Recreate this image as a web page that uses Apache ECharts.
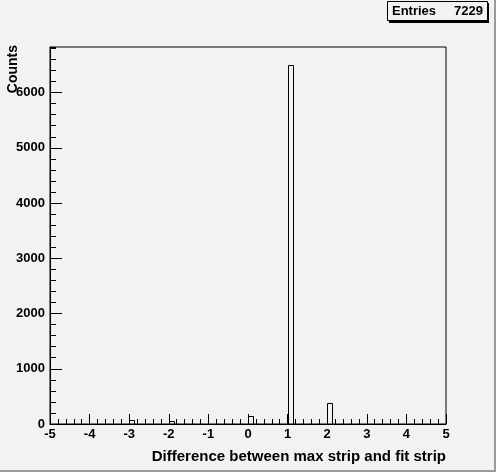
<!DOCTYPE html>
<html>
<head>
<meta charset="utf-8">
<script src="https://cdn.jsdelivr.net/npm/echarts@6/dist/echarts.min.js"></script>
<style>
html,body{margin:0;padding:0;background:#f2f2f2;}
#c{width:496px;height:472px;}
</style>
</head>
<body>
<div id="c"></div>
<script>
// Histogram data (bins of width 0.125 on [-5, 5]; only non-empty bins listed)
const binLow = [-3, -2, 0, 1, 2];
const binWidth = 0.125;
const counts = [75, 60, 140, 6500, 384];
const entries = 7229;
const xTitle = 'Difference between max strip and fit strip';
const yTitle = 'Counts';
const xMin = -5, xMax = 5;
const yMax = Math.max(...counts) * 1.05;

const FONT = '"Liberation Sans", Arial, Helvetica, sans-serif';
const chart = echarts.init(document.getElementById('c'), null, {renderer: 'canvas'});

const data = binLow.map((x, i) => [x, x + binWidth, counts[i]]);

chart.setOption({
  animation: false,
  backgroundColor: '#f2f2f2',
  grid: {left: 50, right: 50, top: 47, bottom: 48, show: true, borderColor: '#000', borderWidth: 1, backgroundColor: 'transparent'},
  xAxis: {
    type: 'value', min: xMin, max: xMax, interval: 1,
    axisLine: {show: true, onZero: false, lineStyle: {color: '#000', width: 1}},
    axisTick: {show: true, inside: true, length: 10, lineStyle: {color: '#000'}},
    minorTick: {show: true, splitNumber: 5, length: 5, lineStyle: {color: '#000'}},
    splitLine: {show: false},
    axisLabel: {color: '#000', fontFamily: FONT, fontWeight: 'bold', fontSize: 13, margin: 4, formatter: v => String(v)}
  },
  yAxis: [{
    type: 'value', min: 0, max: yMax, interval: 1000,
    axisLine: {show: true, onZero: false, lineStyle: {color: '#000', width: 1}},
    axisTick: {show: true, inside: true, length: 12, lineStyle: {color: '#000'}},
    splitLine: {show: false},
    axisLabel: {color: '#000', fontFamily: FONT, fontWeight: 'bold', fontSize: 13, margin: 5, showMaxLabel: false, formatter: v => String(v)}
  }, {
    type: 'value', min: 0, max: yMax, interval: 200, position: 'left',
    axisLine: {show: false, onZero: false},
    axisTick: {show: true, inside: true, length: 6, lineStyle: {color: '#000'}},
    splitLine: {show: false},
    axisLabel: {show: false}
  }],
  series: [{
    type: 'custom',
    xAxisIndex: 0, yAxisIndex: 0,
    data: data,
    renderItem: function (params, api) {
      const p0 = api.coord([api.value(0), api.value(2)]);
      const p1 = api.coord([api.value(1), 0]);
      const x0 = Math.round(p0[0]) + 0.5, x1 = Math.round(p1[0]) + 0.5;
      const y0 = Math.round(p0[1]) + 0.5, y1 = Math.round(p1[1]) + 0.5;
      return {
        type: 'rect',
        shape: {x: x0, y: y0, width: x1 - x0, height: y1 - y0},
        style: {fill: 'none', stroke: '#000', lineWidth: 1}
      };
    }
  }],
  graphic: [
    {type: 'rect', silent: true, z: 100, shape: {x: 494, y: 0, width: 2, height: 472}, style: {fill: '#9a9a9a'}},
    {type: 'rect', silent: true, z: 100, shape: {x: 0, y: 470, width: 496, height: 2}, style: {fill: '#9a9a9a'}},
    {type: 'rect', silent: true, z: 100, shape: {x: 389, y: 3, width: 100, height: 20}, style: {fill: '#000'}},
    {type: 'rect', silent: true, z: 101, shape: {x: 387.5, y: 1.5, width: 100, height: 19}, style: {fill: '#f2f2f2', stroke: '#000', lineWidth: 1}},
    {type: 'text', silent: true, z: 102, x: 392, y: 11, style: {text: 'Entries', fill: '#000', font: 'bold 13px ' + FONT, align: 'left', verticalAlign: 'middle'}},
    {type: 'text', silent: true, z: 102, x: 483, y: 11, style: {text: String(entries), fill: '#000', font: 'bold 13px ' + FONT, align: 'right', verticalAlign: 'middle'}},
    {type: 'text', silent: true, z: 102, x: 446, y: 457, style: {text: xTitle, fill: '#000', font: 'bold 15px ' + FONT, align: 'right', verticalAlign: 'middle'}},
    {type: 'text', silent: true, z: 102, x: 13, y: 45, rotation: Math.PI / 2, style: {text: yTitle, fill: '#000', font: 'bold 14px ' + FONT, align: 'right', verticalAlign: 'middle'}}
  ]
});
</script>
</body>
</html>
